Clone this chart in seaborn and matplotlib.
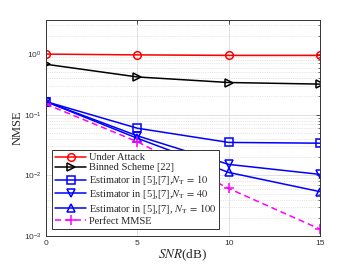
import numpy as np
import pandas as pd
import matplotlib
matplotlib.use("Agg")
import matplotlib.pyplot as plt
import seaborn as sns
from matplotlib.ticker import LogLocator, FixedLocator

# ---------------------- 데이터 ----------------------
snr_db = [0, 5, 10, 15]
under_attack = [1.0, 0.97, 0.95, 0.95]
binned_scheme = [0.68, 0.42, 0.34, 0.32]
est_nt10 = [0.165, 0.060, 0.035, 0.034]
est_nt40 = [0.165, 0.045, 0.0152, 0.0104]
est_nt100 = [0.165, 0.041, 0.0112, 0.0054]
perfect_mmse = [0.15, 0.036, 0.0061, 0.0013]

labels = [
    "Under Attack",
    "Binned Scheme [22]",
    r"Estimator in [5],[7],$N_{\mathrm{T}}\,=\,10$",
    r"Estimator in [5],[7],$N_{\mathrm{T}}\,=\,40$",
    r"Estimator in [5],[7], $N_{\mathrm{T}}\,=\,100$",
    "Perfect MMSE",
]

sns.set_style("white")
plt.rcParams['font.family'] = ['Liberation Serif', 'DejaVu Serif']
plt.rcParams['mathtext.fontset'] = 'stix'

fig = plt.figure(figsize=(3.53, 2.65), dpi=100)
ax = fig.add_axes([0.130, 0.109, 0.777, 0.817])

series = [
    (under_attack, "red", "o", "-"),
    (binned_scheme, "black", ">", "-"),
    (est_nt10, "blue", "s", "-"),
    (est_nt40, "blue", "v", "-"),
    (est_nt100, "blue", "^", "-"),
    (perfect_mmse, "magenta", "+", "--"),
]

for (vals, color, marker, ls), label in zip(series, labels):
    df = pd.DataFrame({"snr": snr_db, "nmse": vals})
    sns.lineplot(data=df, x="snr", y="nmse", ax=ax, color=color, marker=marker,
                 linestyle=ls, linewidth=1.1, markersize=5.5 if marker != "+" else 7,
                 markerfacecolor="none", markeredgecolor=color, markeredgewidth=1.1,
                 dashes=False if ls == "-" else True, label=label)

for line in ax.get_lines():
    if line.get_linestyle() == "--":
        line.set_dashes([4, 2.5])

ax.set_yscale("log")
ax.set_xlim(0, 15)
ax.set_ylim(1e-3, 3.7)
ax.set_xticks([0, 5, 10, 15])
ax.yaxis.set_major_locator(FixedLocator([1e-3, 1e-2, 1e-1, 1e0]))
ax.yaxis.set_minor_locator(LogLocator(base=10, subs=np.arange(2, 10), numticks=20))

ax.grid(True, which="major", color="#dcdcdc", linewidth=0.6, linestyle="-")
ax.grid(True, which="minor", axis="y", color="#cfcfcf", linewidth=0.5, linestyle=":")
ax.set_axisbelow(True)

ax.tick_params(which="both", direction="in", top=True, right=True, colors="#333333",
               labelsize=6, labelcolor="#333333")
ax.tick_params(which="major", length=3, width=0.6, pad=3)
ax.tick_params(which="minor", length=1.5, width=0.5)
for lab in ax.get_xticklabels() + ax.get_yticklabels():
    lab.set_family(["Liberation Sans", "DejaVu Sans"])
    lab.set_math_fontfamily("stixsans")

for sp in ax.spines.values():
    sp.set_color("#333333")
    sp.set_linewidth(0.7)

ax.set_xlabel(r"$SNR$(dB)", fontsize=9.5, labelpad=0)
ax.set_ylabel("NMSE", fontsize=9, labelpad=0)

leg = ax.legend(loc="lower left", bbox_to_anchor=(0.022, 0.032), fontsize=7.5,
                frameon=True, fancybox=False, edgecolor="#333333", framealpha=1,
                handlelength=3.0, handletextpad=0.25, borderpad=0.3, labelspacing=0.08,
                borderaxespad=0)
leg.get_frame().set_linewidth(0.7)

fig.savefig("out.png", dpi=100)
